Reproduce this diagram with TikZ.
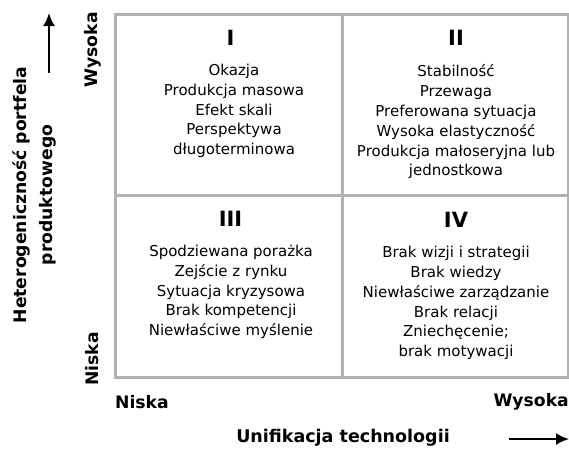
\documentclass[tikz,border=0pt]{standalone}
\usepackage{fontspec}
\setmainfont{DejaVu Sans}
\usetikzlibrary{arrows.meta}
\begin{document}
\begin{tikzpicture}[x=1pt,y=-1pt,
  gridline/.style={draw=gray!60, line width=3pt},
  celltext/.style={align=center, inner sep=0pt, font=\fontsize{15}{19.8}\selectfont},
  numeral/.style={inner sep=0pt, font=\fontsize{21}{22}\selectfont\bfseries},
  axislabel/.style={inner sep=0pt, font=\fontsize{17.2}{20}\selectfont\bfseries},
  axisarrow/.style={line width=2.2pt, -{Latex[length=13pt,width=12pt]}}]
\useasboundingbox (0,0) rectangle (569,448);
% grid
\coordinate (tl) at (115,14);
\coordinate (br) at (568,377);
\coordinate (mt) at (342,14);
\coordinate (mb) at (342,377);
\coordinate (ml) at (115,195);
\coordinate (mr) at (568,195);
\draw[gridline] (tl) rectangle (br);
\draw[gridline] (mt) -- (mb);
\draw[gridline] (ml) -- (mr);
% numerals
\node[numeral] (n1) at (230.5,38) {I};
\node[numeral] (n2) at (456,38) {II};
\node[numeral] (n3) at (230.5,219) {III};
\node[numeral] (n4) at (456,220) {IV};
% cell texts
\node[celltext] (c1) at (234,111) {Okazja\\Produkcja masowa\\Efekt skali\\Perspektywa\\długoterminowa};
\node[celltext] (c2) at (456,122) {Stabilność\\Przewaga\\Preferowana sytuacja\\Wysoka elastyczność\\Produkcja małoseryjna lub\\jednostkowa};
\node[celltext] (c3) at (231,292) {Spodziewana porażka\\Zejście z rynku\\Sytuacja kryzysowa\\Brak kompetencji\\Niewłaściwe myślenie};
\node[celltext] (c4) at (456,303) {Brak wizji i strategii\\Brak wiedzy\\Niewłaściwe zarządzanie\\Brak relacji\\Zniechęcenie;\\brak motywacji};
% axis labels
\node[axislabel, rotate=90] (yh) at (92.5,50) {Wysoka};
\node[axislabel, rotate=90] (yl) at (92.5,359) {Niska};
\node[axislabel, anchor=west] (xl) at (115,402) {Niska};
\node[axislabel, anchor=east] (xh) at (569,402) {Wysoka};
\node[axislabel, rotate=90, align=center, font=\fontsize{17.2}{26}\selectfont\bfseries] (ytitle) at (34,195) {Heterogeniczność portfela\\produktowego};
\node[axislabel, font=\fontsize{17.5}{20}\selectfont\bfseries] (xtitle) at (343,438) {Unifikacja technologii};
% arrows
\coordinate (ya0) at (49,73);
\coordinate (ya1) at (49,13);
\coordinate (xa0) at (509,439);
\coordinate (xa1) at (569,439);
\draw[axisarrow] (ya0) -- (ya1);
\draw[axisarrow] (xa0) -- (xa1);
\end{tikzpicture}
\end{document}
